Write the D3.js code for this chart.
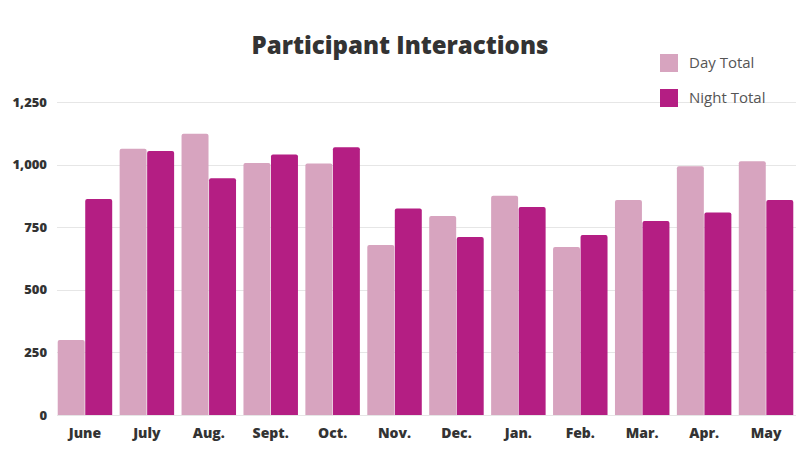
<!DOCTYPE html>
<html>
<head>
<meta charset="utf-8">
<script src="https://cdn.jsdelivr.net/npm/d3@7"></script>
<style>
  body { margin: 0; background: #fff; }
  text { font-family: "Open Sans", sans-serif; }
</style>
</head>
<body>
<script>
// chart size
const w = 800;
const h = 450;

// data
const months = ["June", "July", "Aug.", "Sept.", "Oct.", "Nov.", "Dec.", "Jan.", "Feb.", "Mar.", "Apr.", "May"];
const dayTotal = [300, 1063, 1123, 1006, 1004, 679, 795, 876, 671, 859, 993, 1013];
const nightTotal = [863, 1054, 945, 1040, 1069, 825, 711, 831, 719, 775, 809, 859];
const seriesNames = ["Day Total", "Night Total"];
const seriesColors = ["#d7a4bf", "#b41e83"];
const yTicks = [0, 250, 500, 750, 1000, 1250];

const rows = months.map((m, i) => ({ month: m, values: [dayTotal[i], nightTotal[i]] }));

const svg = d3.select("body").append("svg")
    .attr("width", w)
    .attr("height", h);

// scales
const x = d3.scaleBand()
    .domain(months)
    .range([54, 797])
    .paddingInner(0.12)
    .paddingOuter(0.06);

const xInner = d3.scaleBand()
    .domain([0, 1])
    .range([0, x.bandwidth()])
    .paddingInner(0.02);

const y = d3.scaleLinear()
    .domain([0, 1250])
    .range([415, 102]);

// grid lines
svg.append("g")
    .selectAll("line")
    .data(yTicks)
    .enter()
    .append("line")
    .attr("x1", 57)
    .attr("x2", 796)
    .attr("y1", d => Math.round(y(d)) + 0.5)
    .attr("y2", d => Math.round(y(d)) + 0.5)
    .attr("stroke", "#e6e6e6")
    .attr("stroke-width", 1);

// y axis labels
const yAxis = d3.axisLeft(y)
    .tickValues(yTicks)
    .tickFormat(d3.format(","))
    .tickSize(0)
    .tickPadding(0);

svg.append("g")
    .attr("transform", "translate(47,0)")
    .call(yAxis)
    .call(g => g.select(".domain").remove())
    .selectAll("text")
    .attr("font-family", "'Open Sans', sans-serif")
    .attr("font-weight", 800)
    .attr("font-size", 13)
    .attr("fill", "#333");

// bars with slightly rounded tops
function topRounded(x0, y0, bw, bh, r) {
  return `M${x0},${y0 + bh}V${y0 + r}Q${x0},${y0} ${x0 + r},${y0}H${x0 + bw - r}Q${x0 + bw},${y0} ${x0 + bw},${y0 + r}V${y0 + bh}Z`;
}

const groups = svg.append("g")
    .selectAll("g")
    .data(rows)
    .enter()
    .append("g")
    .attr("transform", d => `translate(${x(d.month)},0)`);

groups.selectAll("path")
    .data(d => d.values)
    .enter()
    .append("path")
    .attr("d", (d, i) => topRounded(xInner(i), y(d), xInner.bandwidth(), y(0) - y(d), 2))
    .attr("fill", (d, i) => seriesColors[i]);

// x axis labels
const xAxis = d3.axisBottom(x).tickSize(0).tickPadding(0);

svg.append("g")
    .attr("transform", "translate(0,428)")
    .call(xAxis)
    .call(g => g.select(".domain").remove())
    .selectAll("text")
    .attr("font-family", "'Open Sans', sans-serif")
    .attr("font-weight", 800)
    .attr("font-size", 14)
    .attr("fill", "#333");

// title
svg.append("text")
    .attr("x", 400)
    .attr("y", 54)
    .attr("text-anchor", "middle")
    .attr("font-weight", 800)
    .attr("font-size", 24)
    .attr("fill", "#333")
    .text("Participant Interactions");

// legend
const legend = svg.append("g")
    .selectAll("g")
    .data(seriesNames)
    .enter()
    .append("g")
    .attr("transform", (d, i) => `translate(660,${54 + i * 35})`);

legend.append("rect")
    .attr("width", 18)
    .attr("height", 18)
    .attr("fill", (d, i) => seriesColors[i]);

legend.append("text")
    .attr("x", 29)
    .attr("y", 9)
    .attr("dy", "0.35em")
    .attr("font-size", 15)
    .attr("fill", "#555")
    .text(d => d);
</script>
</body>
</html>
